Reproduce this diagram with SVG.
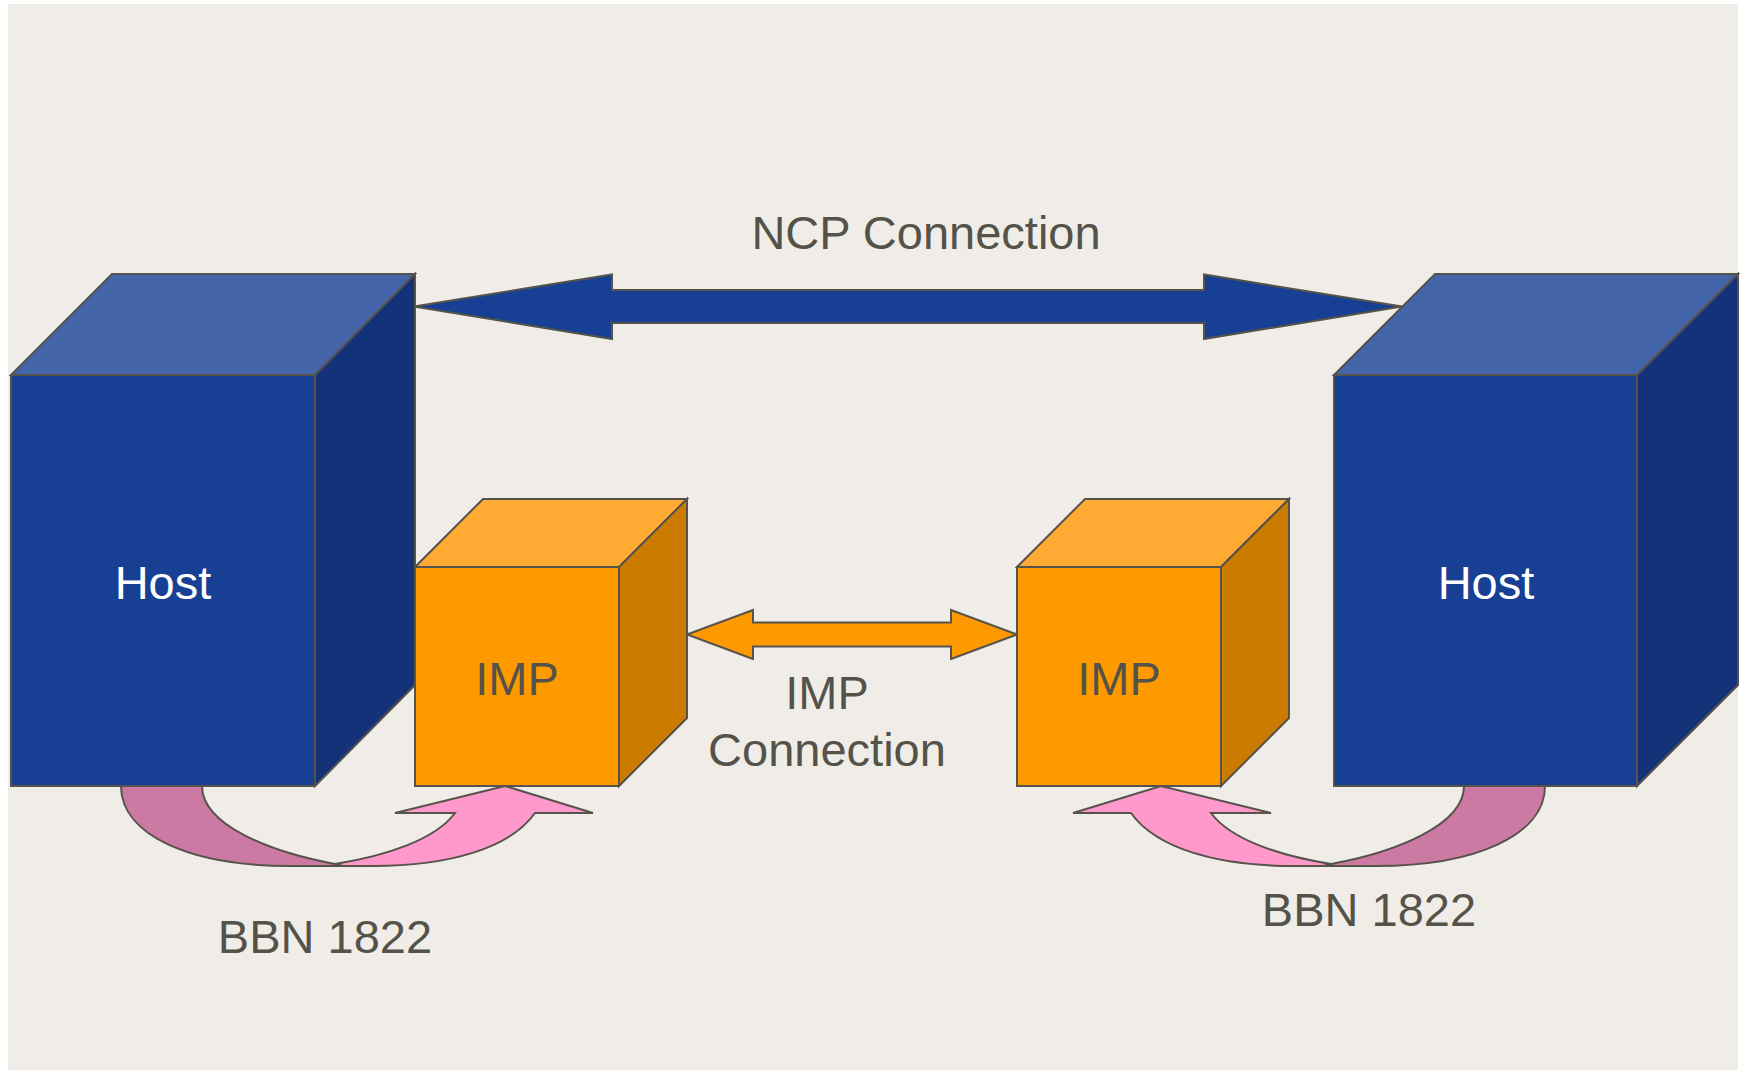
<svg xmlns="http://www.w3.org/2000/svg" width="1745" height="1070" viewBox="0 0 1745 1070">
<style>
.s{stroke:#56534b;stroke-width:2;stroke-linejoin:miter}
.hf{fill:#173f93}.ht{fill:#4565aa}.hs{fill:#13327a}
.if{fill:#ff9900}.it{fill:#ffaa33}.is{fill:#cc7a00}
.pl{fill:#ff99cc}.pd{fill:#cc79a3}
.t{font-family:"Liberation Sans",Arial,sans-serif;font-size:47px;fill:#555249;text-anchor:middle}
.w{fill:#ffffff}
</style>
<defs>
<g id="bbn">
<path class="s pd" d="M121,786 C121,835 190,866 290,866 L372,866 L335,864 C270,852 202,825 202,786 Z"/>
<path class="s pl" d="M335,864 C385,856 435,840 455,813 L395,813 L505,786 L593,813 L535,813 C510,848 450,866 372,866 L343,866 Z"/>
</g>
</defs>
<rect x="8" y="4" width="1730" height="1066" fill="#f0ede8"/>
<g id="connectors">
<path id="ncp" class="s hf" d="M414,306.5 L612,274.5 L612,290 L1204,290 L1204,274.5 L1402,306.5 L1204,339 L1204,323 L612,323 L612,339 Z"/>
<path id="impconn" class="s if" d="M687,634.5 L753,610 L753,622.5 L951,622.5 L951,610 L1017,634.5 L951,659 L951,646.5 L753,646.5 L753,659 Z"/>
<use id="bbn-left" href="#bbn"/>
<use id="bbn-right" href="#bbn" transform="matrix(-1 0 0 1 1666 0)"/>
</g>
<g id="host-left">
<polygon class="s ht" points="11,375 112,274 415,274 315,375"/>
<polygon class="s hs" points="315,375 415,274 415,685 315,786"/>
<rect class="s hf" x="11" y="375" width="304" height="411"/>
<text class="t w" x="163" y="599">Host</text>
</g>
<g id="host-right">
<polygon class="s ht" points="1334,375 1435,274 1738,274 1637,375"/>
<polygon class="s hs" points="1637,375 1738,274 1738,685 1637,786"/>
<rect class="s hf" x="1334" y="375" width="303" height="411"/>
<text class="t w" x="1486" y="599">Host</text>
</g>
<g id="imp-left">
<polygon class="s it" points="415,567 483,499 687,499 619,567"/>
<polygon class="s is" points="619,567 687,499 687,718 619,786"/>
<rect class="s if" x="415" y="567" width="204" height="219"/>
<text class="t" x="517" y="695">IMP</text>
</g>
<g id="imp-right">
<polygon class="s it" points="1017,567 1085,499 1289,499 1221,567"/>
<polygon class="s is" points="1221,567 1289,499 1289,718 1221,786"/>
<rect class="s if" x="1017" y="567" width="204" height="219"/>
<text class="t" x="1119" y="695">IMP</text>
</g>
<g id="labels">
<text class="t" x="926" y="249">NCP Connection</text>
<text class="t" x="827" y="709">IMP</text>
<text class="t" x="827" y="766">Connection</text>
<text class="t" x="325" y="953">BBN 1822</text>
<text class="t" x="1369" y="926">BBN 1822</text>
</g>
</svg>
